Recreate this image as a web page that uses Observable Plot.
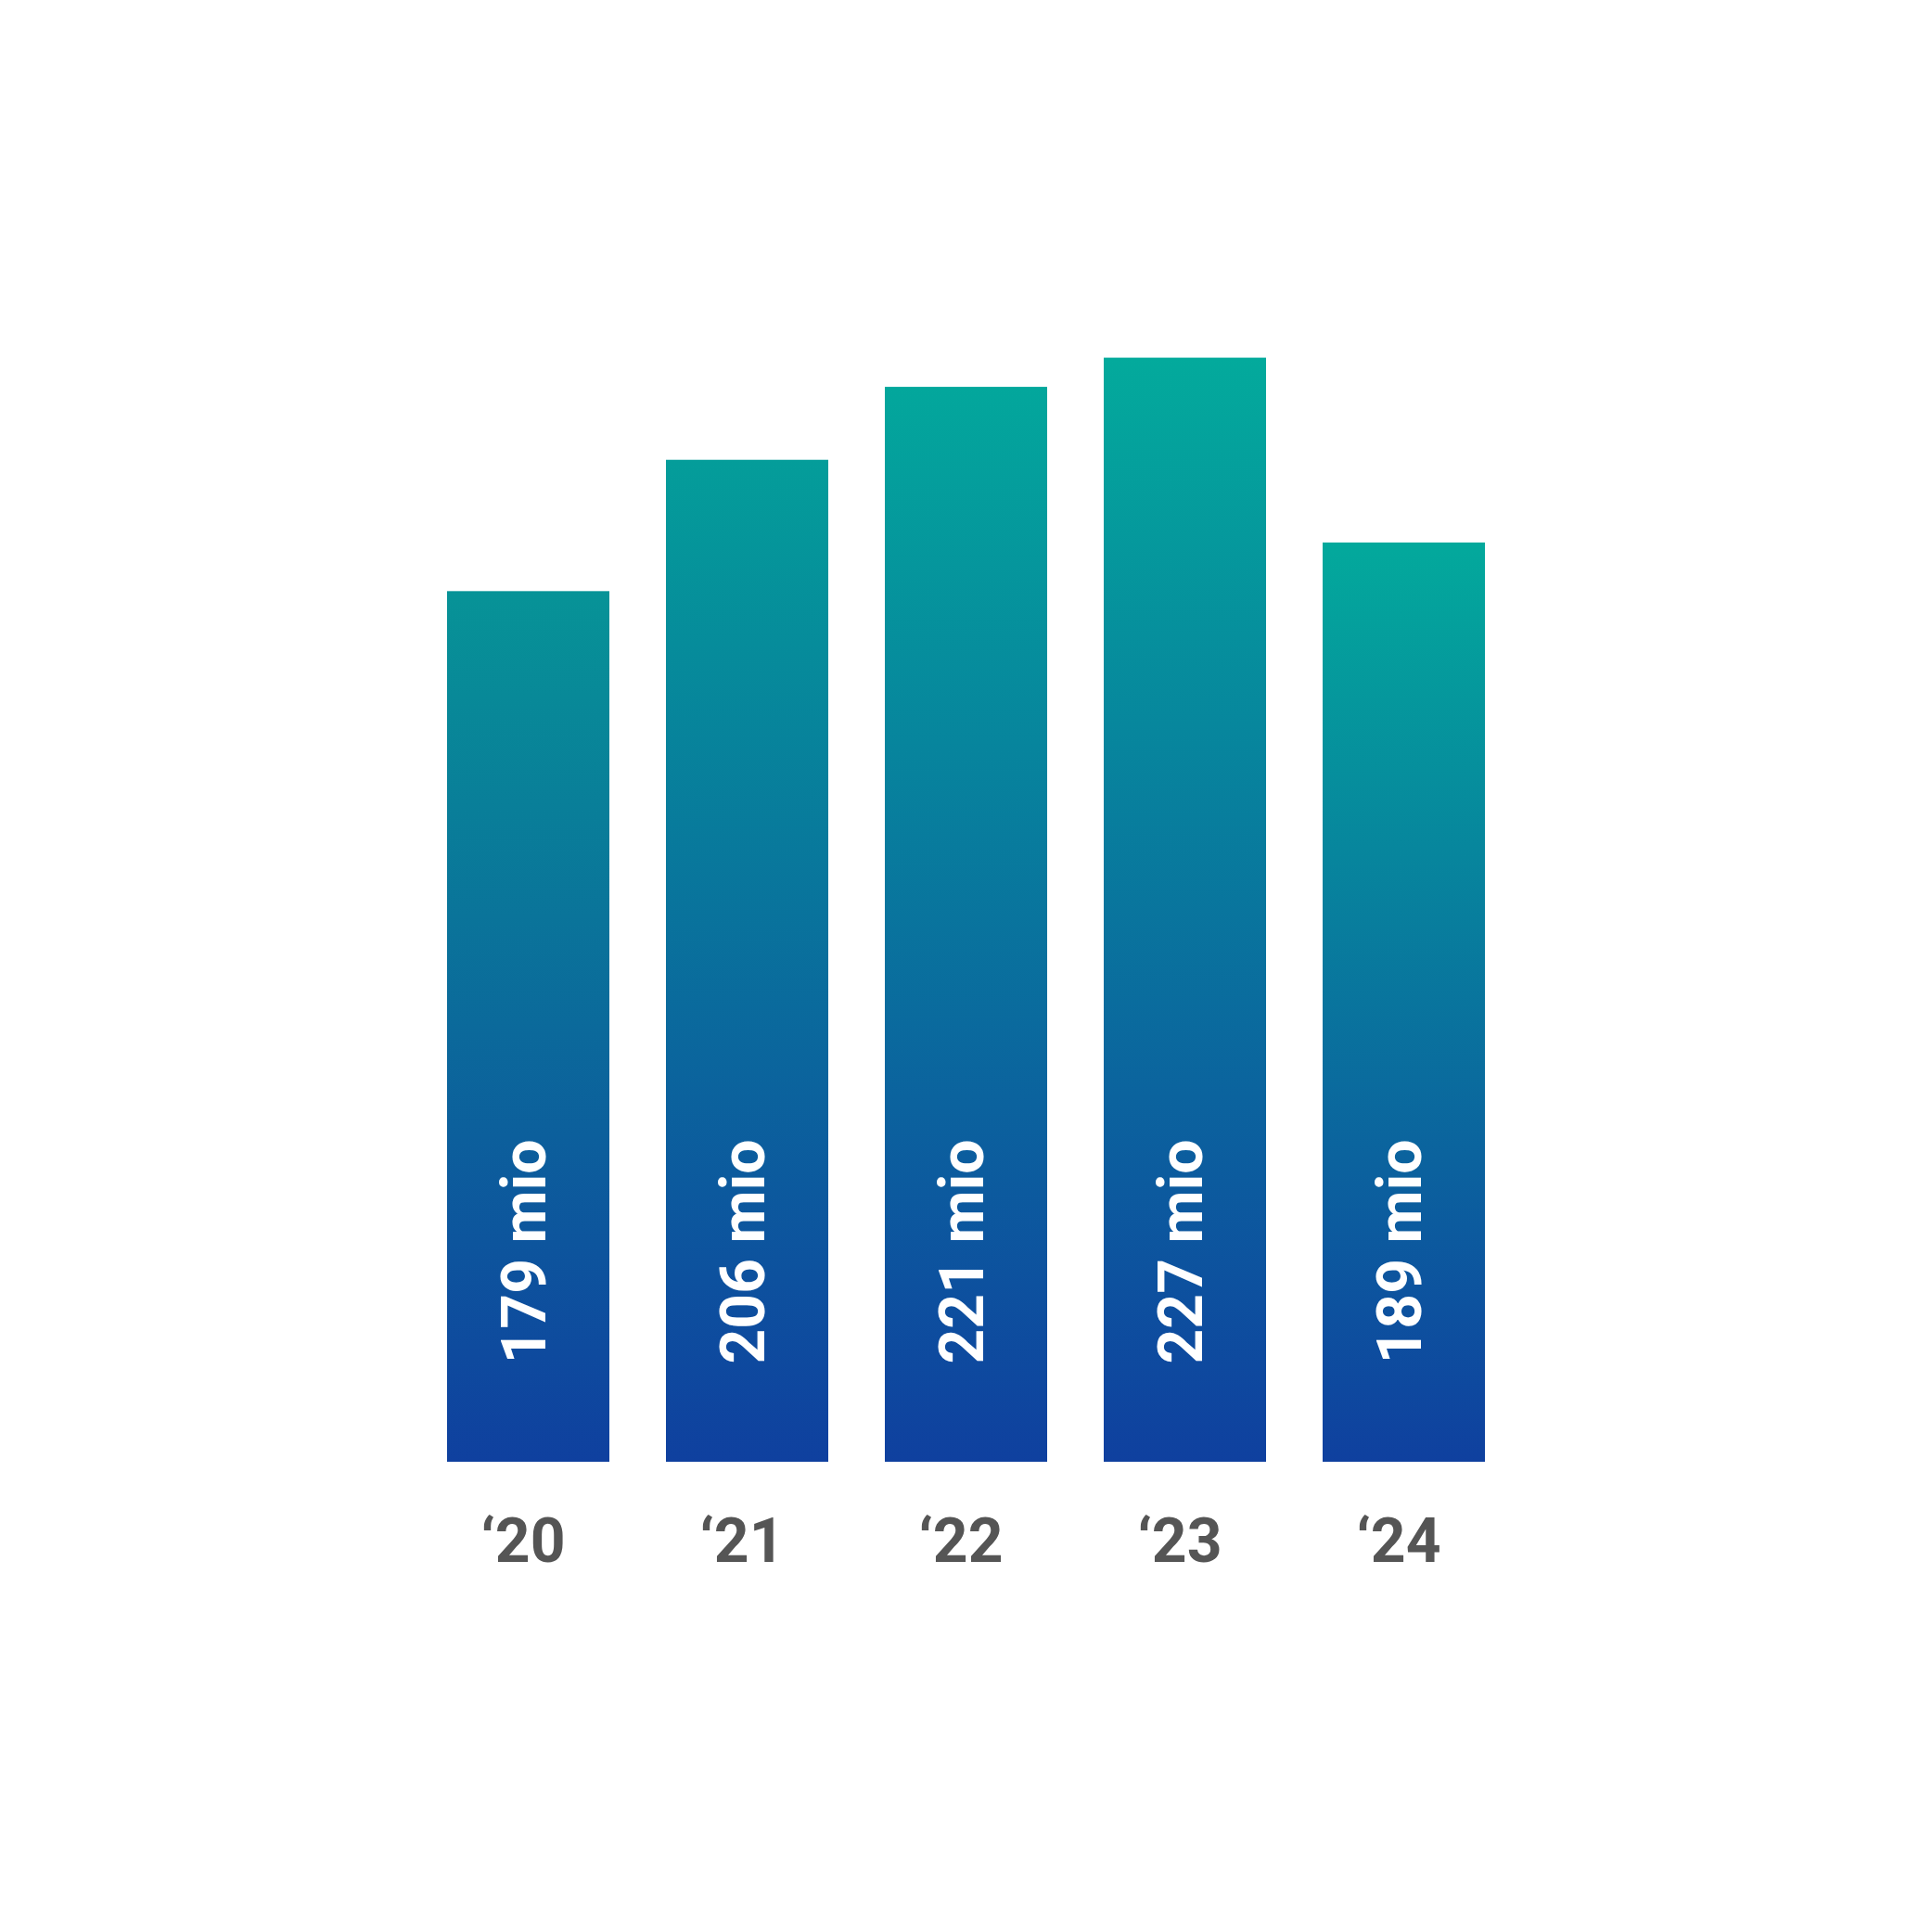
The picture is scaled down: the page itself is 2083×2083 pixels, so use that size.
<!DOCTYPE html>
<html>
<head>
<meta charset="utf-8">
<script src="https://cdn.jsdelivr.net/npm/d3@7"></script>
<script src="https://cdn.jsdelivr.net/npm/@observablehq/plot@0.6"></script>
<style>
  html, body { margin: 0; padding: 0; background: #ffffff; }
  #chart svg { display: block; }
</style>
</head>
<body>
<div id="chart"></div>
<script>
// Yearly totals, in millions
const years = ["2020", "2021", "2022", "2023", "2024"];
const values = [179, 206, 221, 227, 189];
const tickLabels = ["\u201820", "\u201821", "\u201822", "\u201823", "\u201824"];

// Gradient stops for each bar (top colour varies slightly, bottom is shared)
const topColors = ["#079397", "#049d9a", "#03a79c", "#03aa9c", "#03a99c"];
const bottomColor = "#0f409f";

const data = years.map((year, i) => ({year, value: values[i], tick: tickLabels[i], i}));

const font = "Roboto, 'DejaVu Sans', sans-serif";

const chart = Plot.plot({
  width: 2083,
  height: 2083,
  marginLeft: 421,
  marginRight: 421,
  marginTop: 265,
  marginBottom: 507,
  style: {background: "transparent", fontFamily: font},
  x: {domain: years, padding: 0.258, axis: null},
  y: {domain: [0, 250], axis: null},
  marks: [
    Plot.barY(data, {x: "year", y: "value", fill: bottomColor}),
    // value labels, reading bottom-to-top inside each bar
    Plot.text(data, {
      x: "year",
      y: 0,
      text: d => `${d.value} mio`,
      rotate: -90,
      textAnchor: "start",
      lineAnchor: "middle",
      dy: -106,
      dx: -3,
      fill: "white",
      fontSize: 66,
      fontWeight: 700,
      fontFamily: font
    }),
    // year labels under the bars
    Plot.text(data, {
      x: "year",
      y: 0,
      text: "tick",
      lineAnchor: "middle",
      dy: 86,
      dx: -6,
      fill: "#555555",
      fontSize: 66,
      fontWeight: 700,
      fontFamily: font
    })
  ]
});

// Per-bar vertical gradients (teal at the top, deep blue at the base)
const ns = "http://www.w3.org/2000/svg";
const defs = document.createElementNS(ns, "defs");
topColors.forEach((c, i) => {
  const g = document.createElementNS(ns, "linearGradient");
  g.setAttribute("id", `bar-grad-${i}`);
  g.setAttribute("x1", "0"); g.setAttribute("y1", "0");
  g.setAttribute("x2", "0"); g.setAttribute("y2", "1");
  [[0, c], [1, bottomColor]].forEach(([o, col]) => {
    const s = document.createElementNS(ns, "stop");
    s.setAttribute("offset", o);
    s.setAttribute("stop-color", col);
    g.appendChild(s);
  });
  defs.appendChild(g);
});
chart.insertBefore(defs, chart.firstChild);
const barGroup = chart.querySelector('g[aria-label="bar"]');
barGroup.removeAttribute("fill");
barGroup.querySelectorAll("rect").forEach((r, i) => {
  r.setAttribute("fill", `url(#bar-grad-${data[i].i})`);
});

document.getElementById("chart").appendChild(chart);
</script>
</body>
</html>
